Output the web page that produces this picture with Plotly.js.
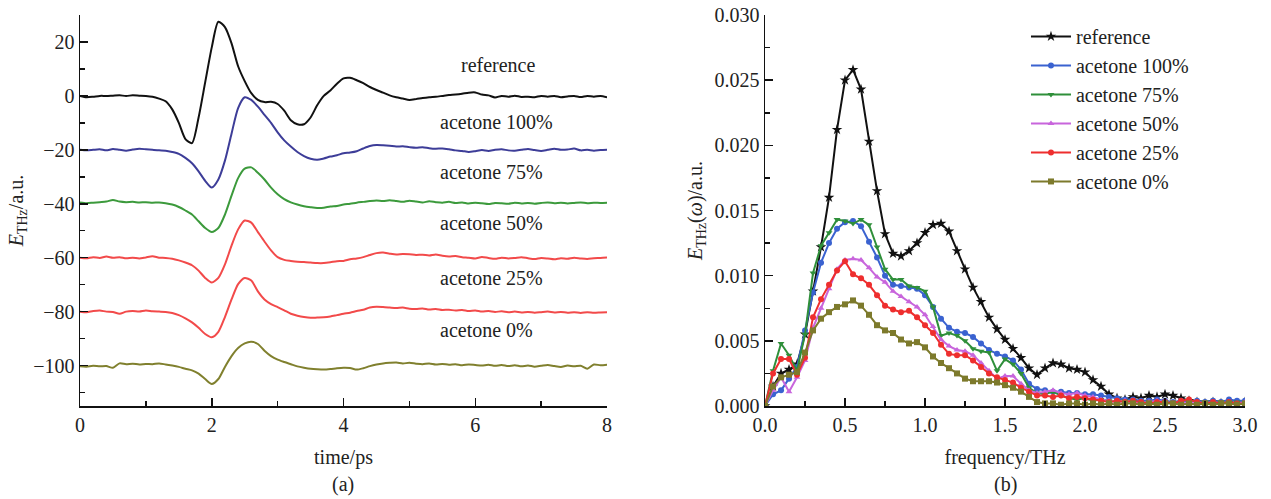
<!DOCTYPE html>
<html>
<head>
<meta charset="utf-8">
<script src="https://cdn.plot.ly/plotly-3.0.1.min.js"></script>
<style>html,body{margin:0;padding:0;background:#fff;}#chart{width:1271px;height:499px;}</style>
</head>
<body>
<div id="chart"></div>
<script>
// ---------- panel (a): time-domain waveforms ----------
var time = [0.0,0.1,0.2,0.3,0.4,0.5,0.6,0.7,0.8,0.9,1.0,1.1,1.2,1.3,1.4,1.5,1.6,1.7,1.8,1.9,2.0,2.1,2.2,2.3,2.4,2.5,2.6,2.7,2.8,2.9,3.0,3.1,3.2,3.3,3.4,3.5,3.6,3.7,3.8,3.9,4.0,4.1,4.2,4.3,4.4,4.5,4.6,4.7,4.8,4.9,5.0,5.1,5.2,5.3,5.4,5.5,5.6,5.7,5.8,5.9,6.0,6.1,6.2,6.3,6.4,6.5,6.6,6.7,6.8,6.9,7.0,7.1,7.2,7.3,7.4,7.5,7.6,7.7,7.8,7.9,8.0];

var tdReference = [0,-0.5,-0.3,0,0,0.1,0.2,0,0.2,0.1,0,-0.3,-1,-2,-5,-10,-16,-17.5,-8,5,18,27.5,25.5,19.5,11,5.5,1,-1.5,-2.3,-2.2,-3,-5.5,-9,-10.5,-10.5,-8,-3.5,0,2,4.5,6.5,6.7,5.8,4.7,3.3,2.2,1.2,0.2,-0.5,-1,-1.5,-1.2,-0.8,-0.5,-0.3,0,0.3,0.5,0.8,1.2,1.3,0.5,0.2,-0.6,0,-0.3,0.1,-0.4,-0.3,-0.5,0,-0.3,0,-0.5,-0.2,0,-0.4,0,-0.3,0,-0.5];

var tdAcetone100 = [-20,-20.2,-20,-19.8,-20.2,-19.7,-20,-20.3,-19.9,-19.6,-19.8,-20,-20.2,-20.3,-20.8,-21.5,-23,-25,-28,-31.5,-34,-31,-24,-14,-4.5,-0.5,-1.5,-4,-7,-10,-13.5,-16.5,-18.8,-20.8,-22.3,-23.3,-23.7,-23.2,-22.5,-22,-21.3,-21,-20.5,-19.5,-18.6,-18.2,-18.3,-18.5,-18.8,-18.7,-19,-19.2,-19,-19.4,-19.6,-19.5,-19.8,-20.2,-20.4,-20.8,-20.5,-20.1,-20.4,-20,-19.8,-20.2,-20.3,-20,-19.7,-20.1,-20.4,-20,-19.6,-20,-19.9,-19.5,-20.2,-20,-20.3,-20.1,-20];

var tdAcetone75 = [-39.5,-39.8,-39.6,-39.4,-39.2,-38.6,-39.2,-39.4,-39.3,-39.5,-39.4,-39.6,-39.5,-39.8,-40.3,-41.2,-42.5,-44,-46.5,-49,-50.5,-49,-44,-37,-30.5,-27,-26.5,-28.5,-31,-34,-36.5,-38.3,-39.5,-40.3,-40.9,-41.3,-41.6,-41.5,-41,-40.8,-40.3,-40,-39.6,-39.3,-39,-38.8,-39,-38.7,-39,-39.3,-38.9,-39.2,-39.5,-39.1,-39.4,-39.6,-39.3,-39.7,-39.5,-39.9,-39.6,-39.8,-40.1,-39.7,-39.8,-40,-39.6,-39.9,-39.7,-40,-39.7,-39.5,-39.8,-39.6,-39.9,-39.7,-39.5,-39.8,-39.6,-39.7,-39.6];

var tdAcetone50 = [-60,-60.2,-59.8,-60.1,-59.6,-60,-59.8,-60.2,-60,-60.3,-59.9,-59.5,-60,-60.1,-60.4,-61,-61.8,-62.8,-64.8,-67.5,-69.2,-67.5,-62.5,-55.5,-49.5,-46.2,-47,-50.5,-54,-57.3,-59.8,-60.8,-61.2,-61.5,-61.6,-61.8,-62,-62,-61.7,-61.3,-61.2,-60.6,-60.3,-59.8,-59,-58.3,-58.1,-58.5,-58.8,-58.6,-58.7,-59,-58.9,-59.2,-58.8,-59.3,-59.6,-59.4,-59.8,-60,-60.3,-59.7,-60.1,-60.4,-60,-60.3,-60.1,-59.8,-60.2,-60.5,-60.1,-60.3,-60.6,-60.2,-60.4,-60,-60.3,-60.5,-60.2,-60.1,-59.9];

var tdAcetone25 = [-80,-80.2,-79.8,-79.6,-80,-80.1,-80.8,-80,-79.8,-80,-79.6,-79.9,-80,-80.1,-80.5,-81.3,-82.5,-84,-86,-88.3,-89.5,-87.5,-82,-75.5,-69.8,-67.5,-68.5,-72.5,-75.5,-77.2,-78.3,-79.5,-80.8,-81.5,-82,-82.3,-82.2,-82.1,-81.8,-81.3,-80.8,-80.4,-79.8,-79.3,-78.5,-78.2,-78.3,-78.5,-78.7,-78.5,-78.9,-79,-78.8,-79.2,-79,-79.4,-79.3,-79.6,-79.4,-79.8,-79.6,-80,-79.8,-80.1,-79.9,-80.2,-80,-80.3,-80.1,-80.4,-80.2,-80,-80.3,-80.1,-80.4,-80.2,-80.5,-80.2,-80.4,-80.3,-80.2];

var tdAcetone0 = [-100.3,-100.4,-100.1,-100.3,-100.2,-100.8,-99.2,-99.5,-99.3,-99.6,-99.4,-99.5,-99.2,-99.6,-100,-100.5,-101.2,-101.8,-103,-105,-106.8,-105,-100.5,-96.5,-93.5,-91.8,-91.2,-92,-94.5,-96.5,-97.8,-98.7,-99.5,-100.3,-100.8,-101.2,-101.4,-101.5,-101.3,-101,-100.8,-100.9,-101.5,-101,-100.2,-99.6,-99.2,-99,-98.9,-99.2,-99,-99.3,-99.5,-99.2,-99.6,-99.4,-99.7,-99.5,-99.9,-99.6,-99.8,-100,-99.7,-100.1,-99.8,-100.2,-99.9,-100.3,-100,-100.4,-100.1,-99.8,-100.2,-100.5,-100,-100.3,-100.1,-101.2,-99.6,-99.9,-99.7];

// ---------- panel (b): spectra ----------
var freq = [0.00,0.05,0.10,0.15,0.20,0.25,0.30,0.35,0.40,0.45,0.50,0.55,0.60,0.65,0.70,0.75,0.80,0.85,0.90,0.95,1.00,1.05,1.10,1.15,1.20,1.25,1.30,1.35,1.40,1.45,1.50,1.55,1.60,1.65,1.70,1.75,1.80,1.85,1.90,1.95,2.00,2.05,2.10,2.15,2.20,2.25,2.30,2.35,2.40,2.45,2.50,2.55,2.60,2.65,2.70,2.75,2.80,2.85,2.90,2.95,3.00];

var spReference = [0.0000,0.0015,0.0025,0.0028,0.0032,0.0055,0.0088,0.0122,0.0160,0.0212,0.0250,0.0258,0.0243,0.0203,0.0165,0.0132,0.0117,0.0115,0.0119,0.0125,0.0133,0.0139,0.0140,0.0134,0.0119,0.0105,0.0091,0.0080,0.0068,0.0059,0.0051,0.0044,0.0037,0.0029,0.0024,0.0029,0.0033,0.0032,0.0029,0.0028,0.0026,0.0020,0.0015,0.0009,0.0006,0.0005,0.0007,0.0006,0.0008,0.0007,0.0009,0.0008,0.0006,0.0004,0.0003,0.0002,0.0003,0.0002,0.0003,0.0002,0.0003];

var spAcetone100 = [0.0000,0.0009,0.0012,0.0021,0.0030,0.0058,0.0087,0.0110,0.0125,0.0136,0.0141,0.0142,0.0138,0.0126,0.0114,0.0100,0.0093,0.0092,0.0091,0.0090,0.0085,0.0076,0.0067,0.0060,0.0057,0.0056,0.0053,0.0048,0.0043,0.0040,0.0038,0.0035,0.0028,0.0017,0.0013,0.0012,0.0011,0.0011,0.0010,0.0010,0.0009,0.0009,0.0008,0.0007,0.0006,0.0005,0.0005,0.0004,0.0004,0.0005,0.0004,0.0003,0.0004,0.0003,0.0004,0.0003,0.0004,0.0003,0.0005,0.0004,0.0004];

var spAcetone75 = [0.0000,0.0027,0.0048,0.0039,0.0027,0.0055,0.0102,0.0123,0.0133,0.0143,0.0142,0.0140,0.0143,0.0139,0.0122,0.0105,0.0097,0.0097,0.0092,0.0091,0.0088,0.0076,0.0054,0.0056,0.0054,0.0050,0.0044,0.0042,0.0041,0.0027,0.0036,0.0032,0.0025,0.0014,0.0010,0.0009,0.0011,0.0008,0.0006,0.0005,0.0006,0.0004,0.0005,0.0004,0.0003,0.0004,0.0003,0.0002,0.0003,0.0002,0.0003,0.0002,0.0003,0.0002,0.0002,0.0003,0.0002,0.0003,0.0002,0.0003,0.0002];

var spAcetone50 = [0.0000,0.0012,0.0022,0.0011,0.0022,0.0035,0.0060,0.0075,0.0090,0.0105,0.0112,0.0113,0.0112,0.0106,0.0099,0.0095,0.0088,0.0084,0.0080,0.0076,0.0070,0.0061,0.0051,0.0046,0.0043,0.0042,0.0039,0.0033,0.0027,0.0021,0.0023,0.0023,0.0017,0.0012,0.0010,0.0011,0.0012,0.0010,0.0009,0.0010,0.0008,0.0007,0.0005,0.0004,0.0003,0.0004,0.0003,0.0002,0.0003,0.0004,0.0003,0.0002,0.0003,0.0002,0.0003,0.0002,0.0003,0.0002,0.0003,0.0002,0.0003];

var spAcetone25 = [0.0000,0.0025,0.0036,0.0036,0.0024,0.0037,0.0068,0.0082,0.0093,0.0104,0.0111,0.0101,0.0098,0.0093,0.0085,0.0077,0.0074,0.0072,0.0073,0.0068,0.0062,0.0056,0.0047,0.0040,0.0039,0.0039,0.0035,0.0030,0.0025,0.0022,0.0020,0.0018,0.0014,0.0011,0.0008,0.0008,0.0007,0.0008,0.0006,0.0007,0.0006,0.0005,0.0004,0.0003,0.0004,0.0003,0.0004,0.0003,0.0002,0.0003,0.0003,0.0002,0.0004,0.0005,0.0003,0.0002,0.0003,0.0002,0.0003,0.0002,0.0002];

var spAcetone0 = [0.0000,0.0015,0.0022,0.0024,0.0026,0.0041,0.0058,0.0067,0.0072,0.0076,0.0078,0.0081,0.0077,0.0070,0.0062,0.0058,0.0056,0.0051,0.0048,0.0049,0.0045,0.0038,0.0033,0.0029,0.0025,0.0021,0.0019,0.0019,0.0019,0.0018,0.0016,0.0014,0.0011,0.0007,0.0003,0.0002,0.0002,0.0001,0.0002,0.0002,0.0001,0.0002,0.0001,0.0002,0.0001,0.0002,0.0002,0.0001,0.0002,0.0001,0.0002,0.0002,0.0001,0.0002,0.0001,0.0002,0.0001,0.0002,0.0002,0.0001,0.0002];

var seriesNames = ['reference','acetone 100%','acetone 75%','acetone 50%','acetone 25%','acetone 0%'];
var tdSeries = [tdReference, tdAcetone100, tdAcetone75, tdAcetone50, tdAcetone25, tdAcetone0];
var spSeries = [spReference, spAcetone100, spAcetone75, spAcetone50, spAcetone25, spAcetone0];

var tdColors = ['#111111','#3d3d98','#3c9a3c','#f24a4a','#f24a4a','#80802e'];
var spColors = ['#111111','#3a62d0','#2f8f3a','#c865dc','#ee2e2e','#7d7a2c'];
var spSymbols = ['star','circle','triangle-down','triangle-up','circle','square'];

var FONT = 'Liberation Serif, Times New Roman, serif';
var traces = [];
for (var i = 0; i < tdSeries.length; i++) {
  traces.push({
    x: time, y: tdSeries[i], xaxis: 'x', yaxis: 'y', type: 'scatter', mode: 'lines',
    line: {color: tdColors[i], width: 2, shape: 'spline', smoothing: 0.7}, showlegend: false, hoverinfo: 'skip'
  });
}
for (var j = 0; j < spSeries.length; j++) {
  traces.push({
    x: freq, y: spSeries[j], xaxis: 'x2', yaxis: 'y2', type: 'scatter', mode: 'lines+markers',
    name: seriesNames[j],
    line: {color: spColors[j], width: 2},
    marker: {symbol: spSymbols[j], size: j === 0 ? 8 : 6, color: spColors[j], line: {width: 0}}
  });
}

var axisCommon = {
  showline: true, linecolor: '#111', linewidth: 1.5, mirror: false,
  ticks: 'inside', ticklen: 8, tickwidth: 1.5, tickcolor: '#111',
  showgrid: false, zeroline: false,
  tickfont: {family: FONT, size: 20, color: '#222'}
};
function ax(extra) { return Object.assign({}, axisCommon, extra); }

// label positions for panel (a)
var labelX = [5.75, 5.43, 5.43, 5.43, 5.43, 5.43];
var labelY = [11.5, -9.6, -28.1, -47, -67.4, -86.7];
var annotations = [];
for (var k = 0; k < seriesNames.length; k++) {
  annotations.push({
    xref: 'x', yref: 'y', x: labelX[k], y: labelY[k], xanchor: 'left', yanchor: 'middle',
    text: seriesNames[k], showarrow: false, font: {family: FONT, size: 20, color: '#222'}
  });
}
annotations.push({xref: 'paper', yref: 'paper', x: 0.226, y: -0.202, yanchor: 'middle', xanchor: 'center',
  text: '(a)', showarrow: false, font: {family: FONT, size: 20, color: '#222'}});
annotations.push({xref: 'paper', yref: 'paper', x: 0.794, y: -0.202, yanchor: 'middle', xanchor: 'center',
  text: '(b)', showarrow: false, font: {family: FONT, size: 20, color: '#222'}});

var layout = {
  width: 1271, height: 499,
  margin: {l: 80, r: 26, t: 15, b: 93},
  paper_bgcolor: '#fff', plot_bgcolor: '#fff',
  font: {family: FONT, size: 20, color: '#222'},
  xaxis: ax({domain: [0, 0.4524], range: [0, 8], tickvals: [0, 2, 4, 6, 8], anchor: 'y',
    minor: {dtick: 1, ticks: 'inside', ticklen: 5, tickwidth: 1.5, tickcolor: '#111'},
    title: {text: 'time/ps', font: {family: FONT, size: 20, color: '#222'}, standoff: 15}}),
  yaxis: ax({domain: [0, 1], range: [-115, 30], tickvals: [-100, -80, -60, -40, -20, 0, 20],
    ticktext: ['\u2212100', '\u221280', '\u221260', '\u221240', '\u221220', '0', '20'],
    minor: {tickvals: [-110, -90, -70, -50, -30, -10, 10], ticks: 'inside', ticklen: 5, tickwidth: 1.5, tickcolor: '#111'},
    title: {text: '<i>E</i><sub>THz</sub>/a.u.', font: {family: FONT, size: 20, color: '#222'}, standoff: 4}}),
  xaxis2: ax({domain: [0.588, 1], anchor: 'y2', range: [0, 3], dtick: 0.5, tick0: 0, tickformat: '.1f',
    minor: {dtick: 0.25, ticks: 'inside', ticklen: 5, tickwidth: 1.5, tickcolor: '#111'},
    title: {text: 'frequency/THz', font: {family: FONT, size: 20, color: '#222'}, standoff: 15}}),
  yaxis2: ax({domain: [0, 1], anchor: 'x2', range: [0, 0.030], dtick: 0.005, tick0: 0, tickformat: '.3f',
    minor: {dtick: 0.0025, ticks: 'inside', ticklen: 5, tickwidth: 1.5, tickcolor: '#111'},
    title: {text: '<i>E</i><sub>THz</sub>(<i>\u03c9</i>)/a.u.', font: {family: FONT, size: 20, color: '#222'}, standoff: 6}}),
  legend: {
    x: 0.812, y: 0.995, xanchor: 'left', yanchor: 'top',
    bgcolor: 'rgba(255,255,255,0)', borderwidth: 0,
    font: {family: FONT, size: 20, color: '#222'}, itemwidth: 40, tracegroupgap: 0
  },
  annotations: annotations
};

Plotly.newPlot('chart', traces, layout, {displayModeBar: false, staticPlot: true});
</script>
</body>
</html>
